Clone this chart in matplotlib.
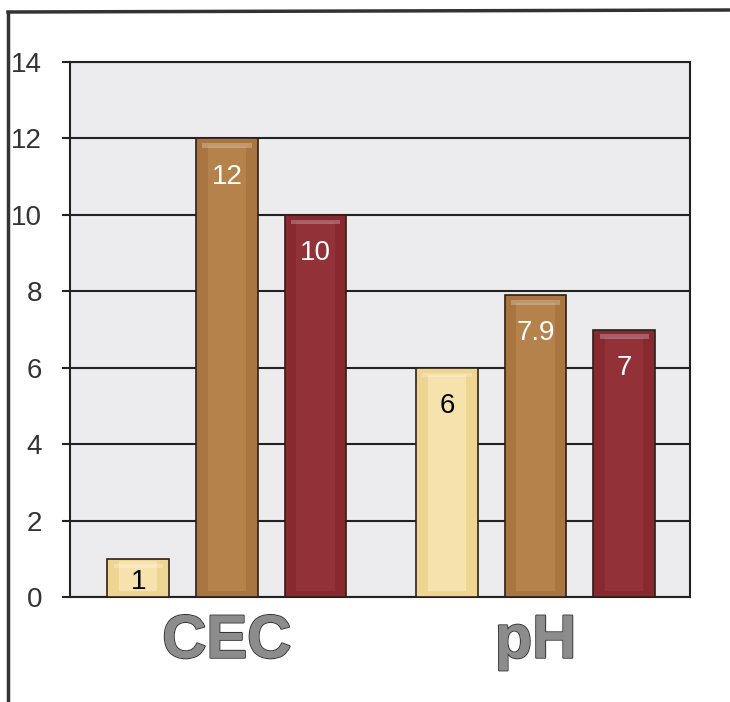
import numpy as np
import matplotlib.pyplot as plt
import matplotlib.patheffects as pe
from matplotlib.lines import Line2D

categories = ["CEC", "pH"]
series1 = [1, 6]
series2 = [12, 7.9]
series3 = [10, 7]
value_labels = [["1", "6"], ["12", "7.9"], ["10", "7"]]
yticks = [0, 2, 4, 6, 8, 10, 12, 14]

colors = ["#efd592", "#a97540", "#87292f"]
inner_colors = ["#f6e2ad", "#b5824c", "#923238"]
text_colors = ["black", "white", "white"]

fig = plt.figure(figsize=(7.3, 7.02), dpi=100)
ax = fig.add_axes([70 / 730, 1 - 597 / 702, 620 / 730, 535 / 702])
ax.set_facecolor("#ececef")

x = np.arange(len(categories))
width = 0.2
offsets = [-0.287, 0, 0.287]
for i, vals in enumerate([series1, series2, series3]):
    pos = x + offsets[i]
    ax.bar(pos, vals, width=width, color=colors[i], edgecolor="#2e2018",
           linewidth=1.2, zorder=3)
    # bevel-ish inner panel
    inner = [v - 0.35 if v > 1 else v - 0.2 for v in vals]
    ax.bar(pos, inner, width=width * 0.62, bottom=0.15, color=inner_colors[i],
           edgecolor="none", zorder=4)
    ax.bar(pos, [0.12] * len(vals), width=width * 0.8,
           bottom=[v - 0.25 for v in vals], color="white", alpha=0.25,
           edgecolor="none", zorder=4)
    for p, v, lab in zip(pos, vals, value_labels[i]):
        ty = v - 1 if v > 2 else v * 0.4
        ax.text(p, ty, lab, ha="center", va="center", fontsize=20,
                family=["Liberation Sans", "DejaVu Sans"],
                color=text_colors[i], zorder=5)

ax.set_ylim(0, 14)
ax.set_xlim(-0.508, 1.5)
ax.set_yticks(yticks)
ax.set_yticklabels([str(t) for t in yticks],
                   family=["Liberation Sans", "DejaVu Sans"],
                   fontsize=20, color="#333333")
ax.tick_params(axis="y", length=6, width=1.5, pad=14, color="#222222")
ax.yaxis.grid(True, color="#222222", linewidth=1.5, zorder=1)
ax.set_axisbelow(True)
for s in ax.spines.values():
    s.set_color("#222222")
    s.set_linewidth(1.5)

ax.set_xticks(x)
ax.set_xticklabels(categories, fontsize=44, fontweight="bold",
                   color="#8c8c8c", family=["Liberation Sans", "DejaVu Sans"])
for t in ax.get_xticklabels():
    t.set_path_effects([pe.withStroke(linewidth=1.5, foreground="#333333"),
                        pe.Normal()])
ax.tick_params(axis="x", length=0, pad=12)

# outer frame of the scanned chart
fig.add_artist(Line2D([8 / 730, 8 / 730], [0, 1 - 12 / 702],
                      color="#333333", linewidth=2.5))
fig.add_artist(Line2D([8 / 730, 1], [1 - 12 / 702, 1 - 10 / 702],
                      color="#333333", linewidth=2.5))

fig.savefig("out.png", dpi=100)
